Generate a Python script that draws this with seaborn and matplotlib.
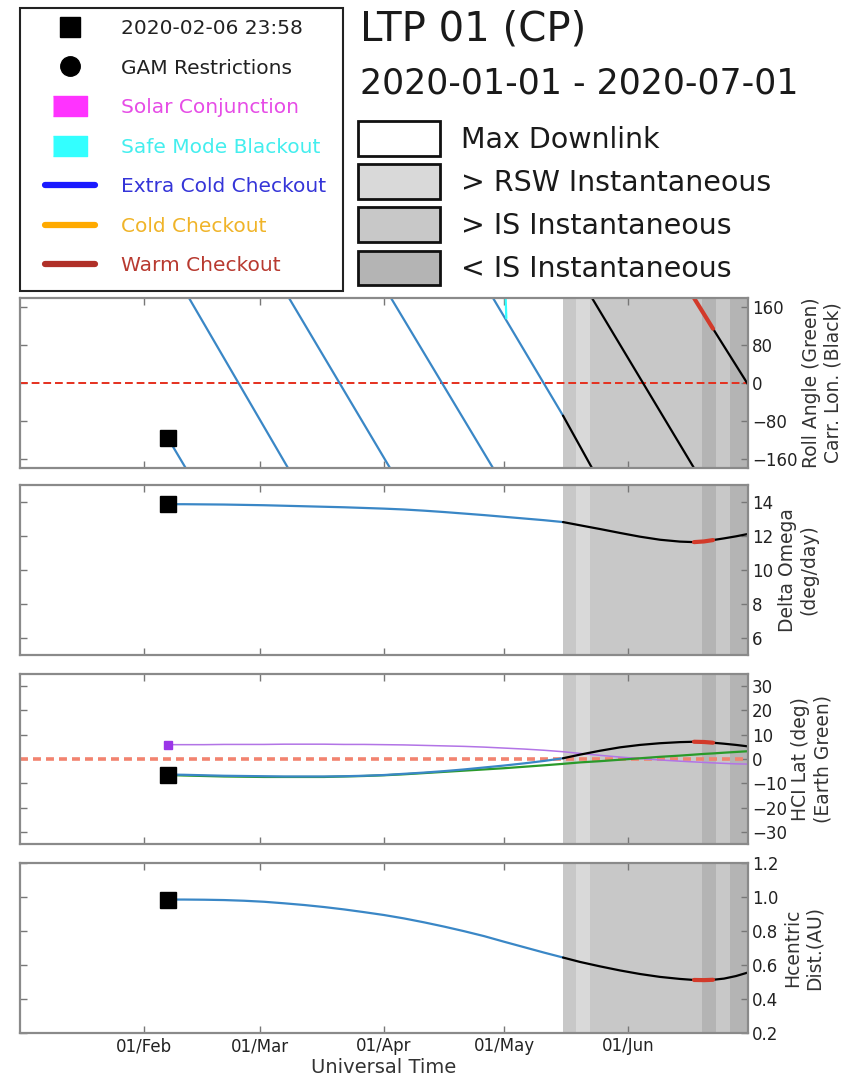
import pandas as pd
import matplotlib
matplotlib.use("Agg")
import matplotlib.pyplot as plt
import matplotlib.dates as mdates
from matplotlib.lines import Line2D
from matplotlib.patches import Patch, Rectangle
import seaborn as sns

sns.set_style("white")
plt.rcParams['font.family'] = ['DejaVu Sans']

# ---- data ----
START = "2020-02-06 23:58"
BLUE_END = "2020-05-15 18:00"
RED_START = "2020-06-17 12:00"
RED_END = "2020-06-22 06:00"

# carrington longitude, one id per wrap-around piece
CARR_DATES = [START, "2020-02-11 10:00",
              "2020-02-12 06:00", "2020-03-08 00:00",
              "2020-03-08 06:00", "2020-04-02 12:00",
              "2020-04-02 18:00", "2020-04-28 06:00",
              "2020-04-28 06:00", BLUE_END, "2020-05-23 00:00",
              "2020-05-23 00:00", RED_START,
              RED_START, RED_END, "2020-07-01 00:00"]
CARR_DEG = [-117, -180, 180, -180, 180, -180, 180, -180,
            180, -69, -180, 180, -180, 180, 115, -3]
CARR_SEG = [0, 0, 1, 1, 2, 2, 3, 3, 4, 4, 4, 5, 5, 6, 6, 6]

# safe mode blackout tick
SAFE_DATES = ["2020-05-01 10:00", "2020-05-01 14:00"]
SAFE_DEG = [179, 137]

TRAJ_DATES = [START, "2020-02-11", "2020-02-16", "2020-02-21", "2020-02-26",
              "2020-03-02", "2020-03-07", "2020-03-12", "2020-03-17", "2020-03-22",
              "2020-03-27", "2020-04-01", "2020-04-06", "2020-04-11", "2020-04-16",
              "2020-04-21", "2020-04-26", "2020-05-01", "2020-05-06", "2020-05-11",
              BLUE_END, "2020-05-20", "2020-05-25", "2020-05-30", "2020-06-04",
              "2020-06-09", "2020-06-14", RED_START, "2020-06-20", RED_END,
              "2020-06-25", "2020-06-28", "2020-07-01"]
DELTA_OMEGA = [13.87, 13.87, 13.86, 13.85, 13.83, 13.81, 13.78, 13.75, 13.72, 13.69,
               13.65, 13.61, 13.56, 13.49, 13.41, 13.32, 13.23, 13.13, 13.03, 12.93,
               12.82, 12.63, 12.41, 12.18, 11.96, 11.78, 11.67, 11.64, 11.68, 11.76,
               11.86, 11.98, 12.12]
HCI_LAT = [-6.4, -6.5, -6.7, -6.9, -7.0, -7.1, -7.2, -7.2, -7.2, -7.1,
           -6.9, -6.6, -6.1, -5.6, -5.0, -4.3, -3.5, -2.7, -1.8, -0.8,
           0.3, 1.8, 3.4, 4.8, 5.8, 6.5, 6.95, 7.1, 7.0, 6.7,
           6.3, 5.8, 5.2]
EARTH_LAT = [-6.6, -6.8, -7.0, -7.2, -7.3, -7.4, -7.4, -7.4, -7.4, -7.2,
             -7.0, -6.7, -6.3, -5.8, -5.3, -4.8, -4.3, -3.8, -3.2, -2.6,
             -2.0, -1.4, -0.9, -0.3, 0.3, 0.9, 1.4, 1.8, 2.1, 2.3,
             2.6, 2.9, 3.2]
PURPLE_LAT = [5.9, 5.9, 5.9, 6.0, 6.0, 6.0, 6.1, 6.1, 6.1, 6.0,
              6.0, 5.9, 5.8, 5.6, 5.4, 5.2, 4.9, 4.5, 4.1, 3.6,
              3.0, 2.3, 1.5, 0.8, 0.2, -0.4, -0.9, -1.2, -1.4, -1.6,
              -1.8, -2.0, -2.1]
HC_DIST = [0.985, 0.985, 0.984, 0.982, 0.978, 0.972, 0.963, 0.953, 0.941, 0.927,
           0.911, 0.894, 0.874, 0.851, 0.826, 0.799, 0.770, 0.737, 0.705, 0.673,
           0.644, 0.618, 0.592, 0.568, 0.547, 0.530, 0.518, 0.512, 0.511, 0.513,
           0.520, 0.535, 0.556]

# shading bands: start, end, kind
BAND_START = ["2020-05-15 18:00", "2020-05-19", "2020-05-22 12:00",
              "2020-06-19 12:00", "2020-06-23", "2020-06-26 12:00"]
BAND_END = ["2020-05-19", "2020-05-22 12:00", "2020-06-19 12:00",
            "2020-06-23", "2020-06-26 12:00", "2020-07-01"]
BAND_KIND = ["gt_is", "gt_rsw", "gt_is", "lt_is", "gt_is", "lt_is"]

SHADE = {"max": "white", "gt_rsw": "#d9d9d9", "gt_is": "#c8c8c8", "lt_is": "#b4b4b4"}
SHADE_LABELS = ["Max Downlink", "> RSW Instantaneous", "> IS Instantaneous", "< IS Instantaneous"]

BLUE = "#3a87c6"
RED = "#d23a2a"
XMIN, XMAX = pd.Timestamp("2020-01-01"), pd.Timestamp("2020-07-01")


def to_dt(vals):
    return pd.to_datetime(vals, format="mixed")


fig = plt.figure(figsize=(8.61, 10.8), dpi=100)
W, H = 861, 1080


def add_ax(top, bottom):
    return fig.add_axes([20 / W, 1 - bottom / H, 728 / W, (bottom - top) / H])


axes = [add_ax(298, 468), add_ax(485, 655), add_ax(674, 844), add_ax(863, 1033)]

traj = pd.DataFrame({"date": to_dt(TRAJ_DATES), "omega": DELTA_OMEGA,
                     "lat": HCI_LAT, "earth": EARTH_LAT, "purple": PURPLE_LAT,
                     "dist": HC_DIST})
carr = pd.DataFrame({"date": to_dt(CARR_DATES), "deg": CARR_DEG, "seg": CARR_SEG})

b_end, r0, r1 = pd.Timestamp(BLUE_END), pd.Timestamp(RED_START), pd.Timestamp(RED_END)


def phased(ax, df, col, units=None):
    parts = [(df["date"] <= b_end, BLUE, 1.6),
             (df["date"] >= b_end, "black", 1.6),
             ((df["date"] >= r0) & (df["date"] <= r1), RED, 3.0)]
    for mask, c, lw in parts:
        sub = df[mask]
        if units is None:
            sns.lineplot(data=sub, x="date", y=col, color=c, lw=lw, ax=ax, sort=False)
        else:
            sns.lineplot(data=sub, x="date", y=col, units=units, estimator=None,
                         color=c, lw=lw, ax=ax, sort=False)


for ax in axes:
    for s, e, k in zip(BAND_START, BAND_END, BAND_KIND):
        ax.axvspan(pd.Timestamp(s), pd.Timestamp(e), color=SHADE[k], lw=0, zorder=0)

start = pd.Timestamp(START)

# panel 1 - roll / carrington longitude
ax = axes[0]
ax.axhline(0, color="#e5301e", lw=1.4, dashes=(4, 2), zorder=1)
phased(ax, carr, "deg", units="seg")
sns.lineplot(x=to_dt(SAFE_DATES), y=SAFE_DEG, color="#33ffff", lw=1.6, ax=ax)
ax.plot([start], [CARR_DEG[0]], "s", color="black", ms=11.5, zorder=5)
ax.set_ylim(-180, 180)
ax.set_yticks([-160, -80, 0, 80, 160])
ax.set_ylabel("Roll Angle (Green)\nCarr. Lon. (Black)")

# panel 2 - delta omega
ax = axes[1]
phased(ax, traj, "omega")
ax.plot([start], [DELTA_OMEGA[0]], "s", color="black", ms=11.5, zorder=5)
ax.set_ylim(5, 15)
ax.set_yticks([6, 8, 10, 12, 14])
ax.set_ylabel("Delta Omega\n(deg/day)")

# panel 3 - HCI latitude
ax = axes[2]
ax.axhline(0, color="#f2836f", lw=2.6, dashes=(2.2, 1.4), zorder=1)
sns.lineplot(data=traj, x="date", y="purple", color="#b274e6", lw=1.1, ax=ax)
sns.lineplot(data=traj, x="date", y="earth", color="#2a9a2a", lw=1.6, ax=ax)
phased(ax, traj, "lat")
ax.plot([start], [PURPLE_LAT[0]], "s", color="#9b35e8", ms=6, zorder=5)
ax.plot([start], [-6.5], "s", color="black", ms=11.5, zorder=5)
ax.set_ylim(-35, 35)
ax.set_yticks(range(-30, 31, 10))
ax.set_ylabel("HCI Lat (deg)\n(Earth Green)")

# panel 4 - heliocentric distance
ax = axes[3]
phased(ax, traj, "dist")
ax.plot([start], [HC_DIST[0]], "s", color="black", ms=11.5, zorder=5)
ax.set_ylim(0.2, 1.2)
ax.set_yticks([0.2, 0.4, 0.6, 0.8, 1.0, 1.2])
ax.set_ylabel("Hcentric\nDist.(AU)")

for i, ax in enumerate(axes):
    ax.set_xlim(XMIN, XMAX)
    ax.xaxis.set_major_locator(mdates.MonthLocator(bymonth=[2, 3, 4, 5, 6]))
    ax.xaxis.set_major_formatter(mdates.DateFormatter("%d/%b"))
    ax.yaxis.set_label_position("right")
    ax.yaxis.label.set_fontsize(13.5)
    ax.yaxis.label.set_color("#333")
    ax.yaxis.labelpad = 3
    ax.set_xlabel("")
    ax.tick_params(direction="in", length=5, width=1, color="#777",
                   top=True, bottom=True, left=True, right=True,
                   labelleft=False, labelright=True, labelbottom=(i == 3),
                   labelsize=12, labelcolor="#222", pad=3)
    for sp in ax.spines.values():
        sp.set_color("#8a8a8a")
        sp.set_linewidth(1.6)
axes[3].set_xlabel("Universal Time", fontsize=14, color="#333", labelpad=2)

# titles
fig.text(360 / W, 1 - 40 / H, "LTP 01 (CP)", fontsize=29, va="baseline", color="#1a1a1a")
fig.text(360 / W, 1 - 93 / H, "2020-01-01 - 2020-07-01", fontsize=25, va="baseline",
         color="#1a1a1a")

# shading legend
shade_handles = [Patch(facecolor=SHADE[k], edgecolor="#111", lw=2)
                 for k in ["max", "gt_rsw", "gt_is", "lt_is"]]
leg2 = fig.legend(shade_handles, SHADE_LABELS, loc="upper left",
                  bbox_to_anchor=(358 / W, 1 - 121 / H), frameon=False, fontsize=20.5,
                  borderpad=0, borderaxespad=0, handlelength=2.88, handleheight=1.51,
                  labelspacing=0.29, handletextpad=0.74)
for t in leg2.get_texts():
    t.set_color("#1a1a1a")

# event legend
rect = [(-1.7, -1), (1.7, -1), (1.7, 1), (-1.7, 1)]
ev_handles = [
    Line2D([], [], ls="none", marker="s", ms=14, color="black"),
    Line2D([], [], ls="none", marker="o", ms=14, color="black"),
    Line2D([], [], ls="none", marker=rect, ms=25, color="#ff33ff"),
    Line2D([], [], ls="none", marker=rect, ms=25, color="#33ffff"),
    Line2D([], [], color="#1a1aff", lw=4.5),
    Line2D([], [], color="#ffaa00", lw=4.5),
    Line2D([], [], color="#b03028", lw=4.5),
]
ev_labels = ["2020-02-06 23:58", "GAM Restrictions", "Solar Conjunction",
             "Safe Mode Blackout", "Extra Cold Checkout", "Cold Checkout", "Warm Checkout"]
ev_colors = ["#222222", "#222222", "#e64ce6", "#44eeee", "#3535d8", "#f0b429", "#b83a30"]
fig.legend(ev_handles, ev_labels, loc="upper left", bbox_to_anchor=(45 / W, 1 - 19 / H),
           frameon=False, fontsize=14.5, borderpad=0, borderaxespad=0, handlelength=2.49,
           handletextpad=1.29, labelspacing=1.02, labelcolor=ev_colors)
fig.patches.append(Rectangle((20 / W, 1 - 291 / H), 323 / W, 283 / H,
                             transform=fig.transFigure, fill=False, ec="#222", lw=1.5))

fig.savefig("out.png", dpi=100)
